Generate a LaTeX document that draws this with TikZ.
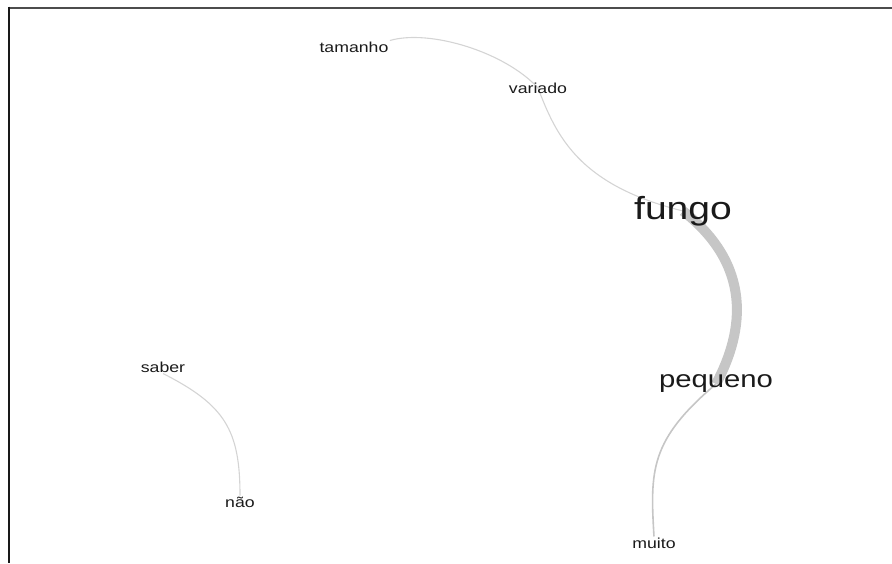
\documentclass[tikz,border=0pt]{standalone}
\usepackage{fontspec}
\setmainfont{Liberation Sans}
\usepackage{xcolor}
\usetikzlibrary{backgrounds}

\definecolor{edgegray}{HTML}{D4D4D4}
\definecolor{thickgray}{HTML}{C6C6C6}
\definecolor{wordcol}{HTML}{1A1A1A}

\begin{document}
\begin{tikzpicture}[
  x=1pt, y=-1pt,
  word/.style={inner sep=1pt, text=wordcol, xscale=1.22},
  small/.style={word, font=\fontsize{14.5}{16}\selectfont},
  medium/.style={word, font=\fontsize{24}{28}\selectfont},
  large/.style={word, font=\fontsize{32}{36}\selectfont},
  link/.style={draw=edgegray, line width=1.1pt},
  strong/.style={draw=thickgray, line width=10pt}
]
\useasboundingbox (0,0) rectangle (892,563);

% Frame
\draw[line width=2pt, black!70] (8,7.5) -- (892,7.5);
\draw[line width=2pt, black!90] (8.5,6.5) -- (8.5,563);

% Nodes
\node[small] (tamanho) at (354,47) {tamanho};
\node[small] (variado) at (538,88) {variado};
\node[large] (fungo) at (683,211) {fungo};
\node[medium] (pequeno) at (716,384) {pequeno};
\node[small] (muito) at (654,543) {muito};
\node[small] (saber) at (163,367) {saber};
\node[small] (nao) at (240,502) {não};

% Edges
\begin{scope}[on background layer]
\draw[link] (tamanho.north east) .. controls (430,29) and (505,52) .. (variado.center);
\draw[link] (variado.center) .. controls (556,135) and (578,185) .. (fungo.center);
\draw[strong] (fungo.center) .. controls (752,265) and (745,330) .. (pequeno.center);
\draw[link, draw=thickgray, line width=1.6pt] (pequeno.center) .. controls (650,440) and (650,470) .. (muito.north);
\draw[link] (saber.south) .. controls (225,405) and (240,430) .. (nao.north);
\end{scope}

\end{tikzpicture}
\end{document}
